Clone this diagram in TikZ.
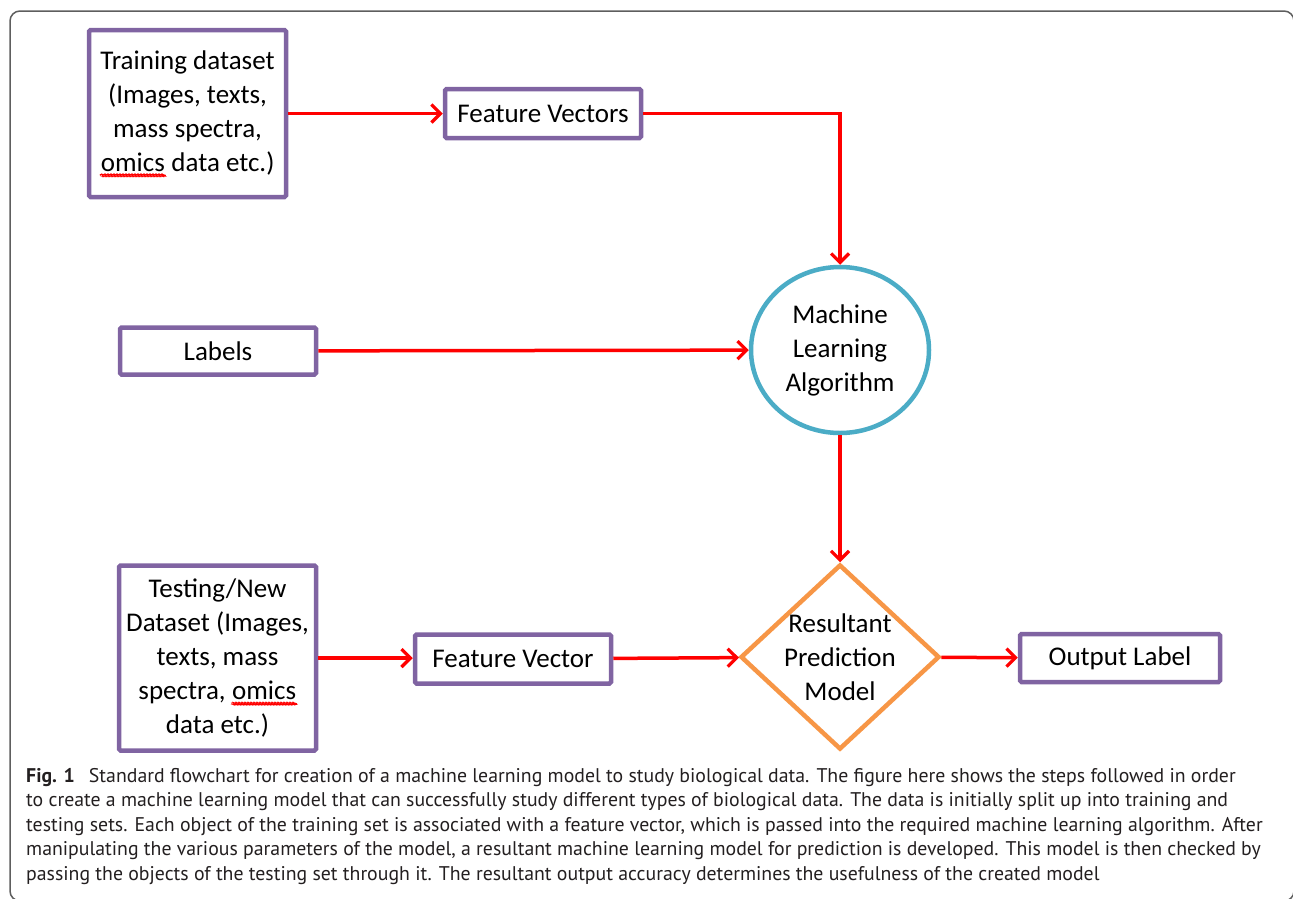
\documentclass[tikz,border=0pt]{standalone}
\usepackage{fontspec}
\setmainfont{Carlito}
\newfontfamily\capfont{PT Sans}
\usepackage{tikz}
\usetikzlibrary{
  arrows.meta,
  shapes.geometric,
  positioning,
  decorations.pathmorphing
}
\definecolor{mlPurple}{HTML}{8064A2}
\definecolor{mlTeal}{HTML}{4BACC6}
\definecolor{mlOrange}{HTML}{F79646}
\definecolor{mlArrow}{HTML}{FF0000}
\definecolor{mlFrame}{HTML}{5E5E5E}
\definecolor{mlText}{HTML}{231F20}
\tikzset{
  mlnode/.style={
    draw, line width=4.5pt, fill=white, inner sep=0pt,
    font=\fontsize{27}{34}\selectfont, align=center
  },
  mlbox/.style={mlnode, draw=mlPurple, rounded corners=1.5pt},
  algo/.style={mlnode, ellipse, draw=mlTeal, minimum width=178pt, minimum height=166pt},
  decision/.style={mlnode, diamond, draw=mlOrange, inner sep=-14pt,
    minimum width=199pt, minimum height=185pt},
  flow/.style={-{Straight Barb[length=9pt, width=18pt, line width=3.2pt]}, line width=3.5pt, mlArrow},
  spell/.style={draw=red, line width=0.8pt, decorate,
    decoration={snake, amplitude=0.8pt, segment length=3pt}},
  frame/.style={draw=mlFrame, line width=1.5pt, rounded corners=10pt},
  captext/.style={font=\capfont\fontsize{19.8}{24.5}\selectfont, align=left,
    text=mlText, inner sep=0pt}
}
\newcommand{\spellmark}[1]{\tikz[baseline=(sm.base), x=1cm, y=1cm]{%
  \node[shape=rectangle, inner sep=0pt, outer sep=0pt, minimum width=0pt,
        minimum height=0pt, draw=none, fill=none, rounded corners=0pt] (sm) {#1};
  \draw[spell] ([yshift=-4pt]sm.south west) -- ([yshift=-4pt]sm.south east);}}

\begin{document}
\begin{tikzpicture}[x=1pt, y=-1pt]
  \useasboundingbox (0,0) rectangle (1293,898);
  \draw[frame] (10,11) rectangle (1294,901);

  % training branch
  \node[mlbox, minimum width=197pt, minimum height=167pt] (train) at (187.5,113.5)
    {Training dataset\\(Images, texts,\\mass spectra,\\\spellmark{omics} data etc.)};
  \node[mlbox, minimum width=196pt, minimum height=49pt] (fvecs) at (543,113.5) {Feature Vectors};
  \node[mlbox, minimum width=196pt, minimum height=47pt] (labels) at (218,351) {Labels};
  \node[algo] (mla) at (840,350) {Machine\\Learning\\Algorithm};

  % testing branch
  \node[mlbox, minimum width=197pt, minimum height=185pt] (test) at (217.5,658)
    {Testing/New\\Dataset (Images,\\texts, mass\\spectra, \spellmark{omics}\\data etc.)};
  \node[mlbox, minimum width=196pt, minimum height=49pt] (fvec) at (513,659) {Feature Vector};
  \node[decision] (pred) at (840,657) {Resultant\\Prediction\\Model};
  \node[mlbox, minimum width=200pt, minimum height=48pt] (outl) at (1120,658) {Output Label};

  \draw[flow] (train) -- (fvecs);
  \draw[flow] (fvecs.east) -| (mla.north);
  \draw[flow] (labels) -- (mla);
  \draw[flow] (mla) -- (pred);
  \draw[flow] (test) -- (test -| fvec.west);
  \draw[flow] (fvec) -- (pred);
  \draw[flow] (pred) -- (outl);

  \node[captext, anchor=north west] (cap) at (26,768)
    {\textbf{Fig. 1}\hspace{14pt}Standard flowchart for creation of a machine learning model to study biological data. The figure here shows the steps followed in order\\
     to create a machine learning model that can successfully study different types of biological data. The data is initially split up into training and\\
     testing sets. Each object of the training set is associated with a feature vector, which is passed into the required machine learning algorithm. After\\
     manipulating the various parameters of the model, a resultant machine learning model for prediction is developed. This model is then checked by\\
     passing the objects of the testing set through it. The resultant output accuracy determines the usefulness of the created model};
\end{tikzpicture}
\end{document}
